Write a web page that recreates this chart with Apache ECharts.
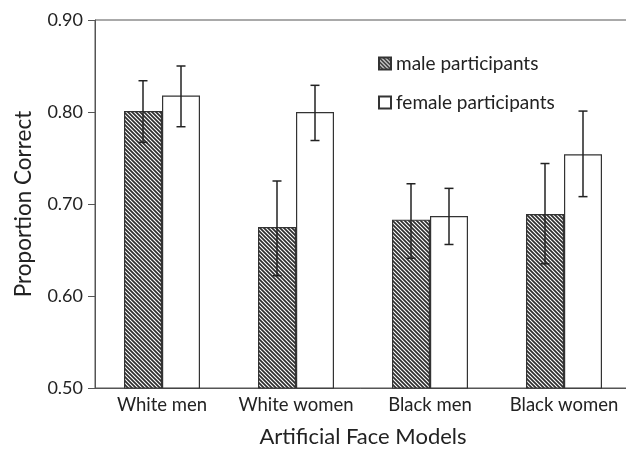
<!DOCTYPE html>
<html>
<head>
<meta charset="utf-8">
<script src="https://cdn.jsdelivr.net/npm/echarts@6/dist/echarts.min.js"></script>
<style>html,body{margin:0;padding:0;background:#fff;}#c{width:626px;height:449px;}</style>
</head>
<body>
<div id="c"></div>
<script>
const categories = ['White men', 'White women', 'Black men', 'Black women'];
const maleValues = [0.801, 0.675, 0.683, 0.689];
const maleLow = [0.767, 0.622, 0.641, 0.635];
const maleHigh = [0.834, 0.725, 0.722, 0.744];
const femaleValues = [0.818, 0.800, 0.687, 0.754];
const femaleLow = [0.784, 0.769, 0.656, 0.708];
const femaleHigh = [0.850, 0.829, 0.717, 0.801];
const yTicks = [0.50, 0.60, 0.70, 0.80, 0.90];

const FONT = 'Lato';
const BAR_W = 38;

function makePattern() {
  const s = 4;
  const c = document.createElement('canvas');
  c.width = s; c.height = s;
  const g = c.getContext('2d');
  g.fillStyle = '#ffffff';
  g.fillRect(0, 0, s, s);
  g.strokeStyle = '#2e2e2e';
  g.lineWidth = 1.7;
  g.beginPath();
  g.moveTo(-1, -1); g.lineTo(s + 1, s + 1);
  g.moveTo(-1, s - 1); g.lineTo(1, s + 1);
  g.moveTo(s - 1, -1); g.lineTo(s + 1, 1);
  g.stroke();
  return c;
}
const hatch = { image: makePattern(), repeat: 'repeat' };

function errData(low, high) {
  return categories.map((c, i) => [i, low[i], high[i]]);
}
function errRender(offset) {
  return function (params, api) {
    const x = api.value(0);
    const lo = api.coord([x, api.value(1)]);
    const hi = api.coord([x, api.value(2)]);
    const cx = lo[0] + offset;
    const cap = 4.5;
    const style = { stroke: '#222', lineWidth: 1.5 };
    return {
      type: 'group',
      children: [
        { type: 'line', shape: { x1: cx, y1: hi[1], x2: cx, y2: lo[1] }, style },
        { type: 'line', shape: { x1: cx - cap, y1: hi[1], x2: cx + cap, y2: hi[1] }, style },
        { type: 'line', shape: { x1: cx - cap, y1: lo[1], x2: cx + cap, y2: lo[1] }, style }
      ]
    };
  };
}

const chart = echarts.init(document.getElementById('c'));
chart.setOption({
  animation: false,
  backgroundColor: '#fff',
  textStyle: { fontFamily: FONT },
  grid: { left: 95, top: 20, right: -5, bottom: 61, outerBoundsMode: 'none', containLabel: false,
    show: true, borderColor: '#555', borderWidth: 1, backgroundColor: 'transparent' },
  legend: {
    orient: 'vertical', left: 373, top: 49, itemWidth: 12, itemHeight: 12, itemGap: 20,
    icon: 'rect',
    textStyle: { fontFamily: FONT, fontSize: 19, color: '#222' },
    data: ['male participants', 'female participants']
  },
  xAxis: {
    type: 'category', data: categories,
    name: 'Artificial Face Models', nameLocation: 'middle', nameGap: 38,
    nameTextStyle: { fontFamily: FONT, fontSize: 22, color: '#222' },
    axisLine: { lineStyle: { color: '#555', width: 1 } },
    axisTick: { show: false },
    axisLabel: { fontFamily: FONT, fontSize: 18.5, color: '#222', margin: 8, interval: 0 },
    splitLine: { show: false }
  },
  yAxis: {
    type: 'value', min: 0.5, max: 0.9, interval: 0.1,
    name: 'Proportion Correct', nameLocation: 'middle', nameGap: 60,
    nameTextStyle: { fontFamily: FONT, fontSize: 22.5, color: '#222' },
    axisLine: { show: true, lineStyle: { color: '#555', width: 1 } },
    axisTick: { show: true, length: 7, lineStyle: { color: '#555' } },
    axisLabel: { fontFamily: FONT, fontSize: 18, color: '#222', margin: 12,
      formatter: v => { const t = yTicks.find(y => Math.abs(y - v) < 1e-6); return (t !== undefined ? t : v).toFixed(2); } },
    splitLine: { show: false }
  },
  series: [
    { name: 'male participants', type: 'bar', data: maleValues, barWidth: BAR_W, barGap: '0%',
      itemStyle: { color: hatch, borderColor: '#333', borderWidth: 1.2 } },
    { name: 'female participants', type: 'bar', data: femaleValues, barWidth: BAR_W, barGap: '0%',
      itemStyle: { color: '#fff', borderColor: '#333', borderWidth: 1.2 } },
    { type: 'custom', data: errData(maleLow, maleHigh), renderItem: errRender(-BAR_W / 2), z: 10,
      encode: { x: 0, y: [1, 2] } },
    { type: 'custom', data: errData(femaleLow, femaleHigh), renderItem: errRender(BAR_W / 2), z: 10,
      encode: { x: 0, y: [1, 2] } }
  ]
});
</script>
</body>
</html>
